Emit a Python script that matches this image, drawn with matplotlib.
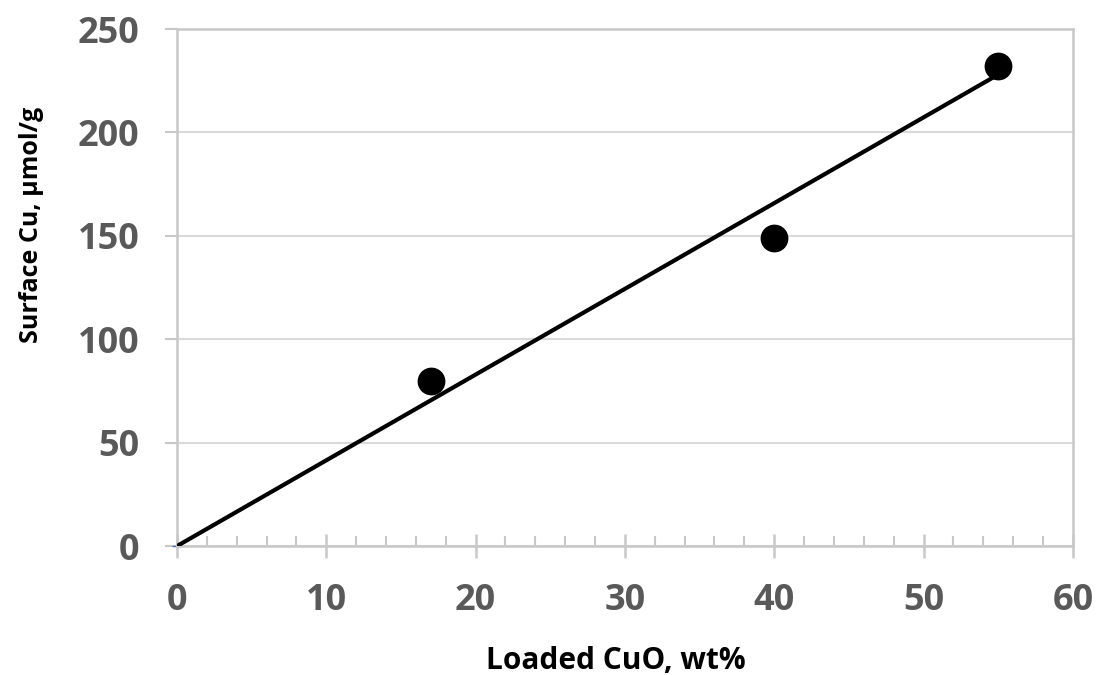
import matplotlib.pyplot as plt
from matplotlib.ticker import MultipleLocator

# measured points
cuo_wt = [17, 40, 55]
surface_cu = [80, 149, 232]

# trendline (through origin)
fit_x = [0, 55]
fit_y = [0, 228]

x_ticks = [0, 10, 20, 30, 40, 50, 60]
y_ticks = [0, 50, 100, 150, 200, 250]

plt.rcParams['font.family'] = ['Open Sans', 'DejaVu Sans']
plt.rcParams['font.weight'] = 'bold'

fig = plt.figure(figsize=(10.97, 6.75), dpi=100)
ax = fig.add_axes([0.1613, 0.191, 0.8167, 0.766])

ax.set_xlim(0, 60)
ax.set_ylim(0, 250)
ax.set_xticks(x_ticks)
ax.set_yticks(y_ticks)
ax.xaxis.set_minor_locator(MultipleLocator(2))

ax.grid(axis='y', color='#d9d9d9', lw=1.5, zorder=0)
ax.set_axisbelow(True)

for side in ['left', 'bottom', 'right', 'top']:
    ax.spines[side].set_color('#c8c8c8')
    ax.spines[side].set_linewidth(1.8)

ax.tick_params(axis='y', which='major', direction='out', length=9, width=1.5,
               color='#c8c8c8', labelsize=26, labelcolor='#595959', pad=18)
ax.tick_params(axis='x', which='major', direction='inout', length=17, width=1.8,
               color='#c8c8c8', labelsize=26, labelcolor='#595959', pad=18)
ax.tick_params(axis='x', which='minor', direction='in', length=7, width=1.5,
               color='#c8c8c8')

ax.plot(fit_x, fit_y, color='black', lw=3, zorder=3, solid_capstyle='butt')
ax.plot(cuo_wt, surface_cu, 'o', color='black', markersize=19, zorder=4,
        clip_on=False)
ax.plot([0], [0], marker='_', color='#4472c4', markersize=7, mew=1, zorder=2,
        clip_on=False)

ax.set_xlabel('Loaded CuO, wt%', fontsize=21.5, fontweight='bold', va='center')
ax.xaxis.set_label_coords(0.49, -0.222)
ax.set_ylabel('Surface Cu, µmol/g', fontsize=18, fontweight='bold', va='center')
ax.yaxis.set_label_coords(-0.162, 0.621)

for lab in ax.get_xticklabels() + ax.get_yticklabels():
    lab.set_fontweight('bold')

fig.savefig('out.png', dpi=100)
